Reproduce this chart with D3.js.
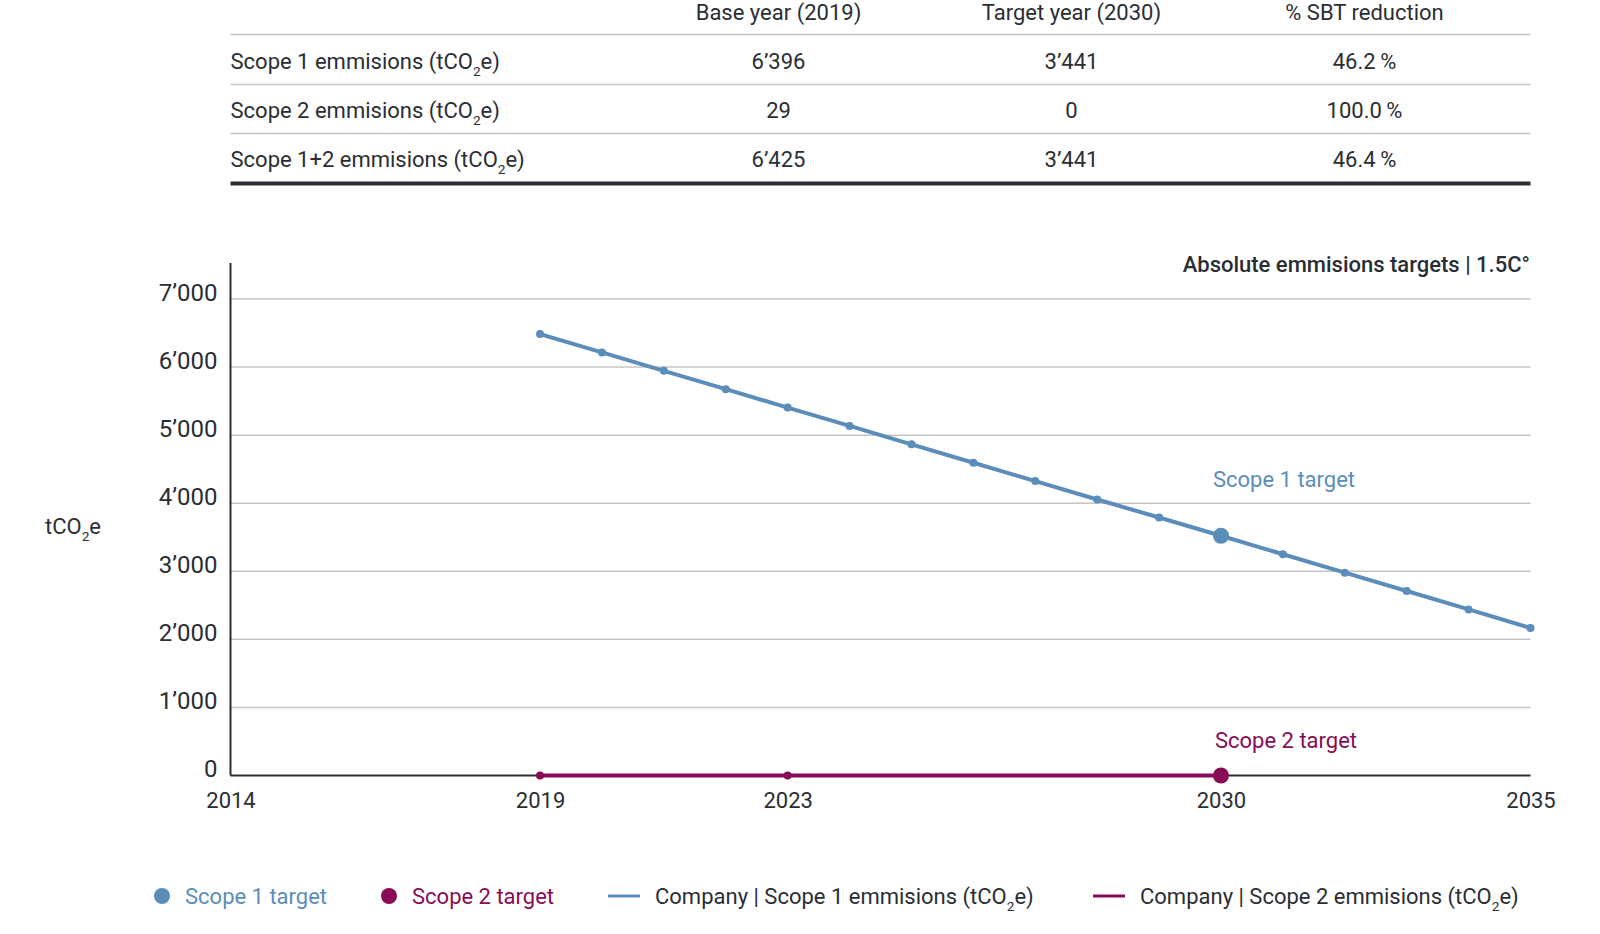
<!DOCTYPE html>
<html>
<head>
<meta charset="utf-8">
<script src="https://cdn.jsdelivr.net/npm/d3@7"></script>
<style>
  html, body { margin: 0; padding: 0; background: #fff; }
  svg { display: block; font-family: Roboto, "Noto Sans", sans-serif; }
</style>
</head>
<body>
<svg id="chart" width="1600" height="934"></svg>
<script>
// ---------- DATA ----------
const tableHeaders = ["Base year (2019)", "Target year (2030)", "% SBT reduction"];
const tableRowLabels = ["Scope 1 emmisions (tCO2e)", "Scope 2 emmisions (tCO2e)", "Scope 1+2 emmisions (tCO2e)"];
const baseYearValues = ["6’396", "29", "6’425"];
const targetYearValues = ["3’441", "0", "3’441"];
const reductionValues = ["46.2\u2009%", "100.0\u2009%", "46.4\u2009%"];

const scope1Years = [2019,2020,2021,2022,2023,2024,2025,2026,2027,2028,2029,2030,2031,2032,2033,2034,2035];
const scope1Values = [6485,6215,5945,5675,5405,5135,4865,4595,4325,4055,3790,3522,3250,2980,2710,2440,2167];
const scope2Years = [2019, 2023, 2030];
const scope2Values = [0, 0, 0];
const targetYear = 2030;

const xTicks = [2014, 2019, 2023, 2030, 2035];
const yTicks = [0, 1000, 2000, 3000, 4000, 5000, 6000, 7000];

const chartTitle = "Absolute emmisions targets | 1.5C°";
const yAxisLabel = "tCO2e";
const legendItems = [
  {type: "dot", label: "Scope 1 target", color: "#5b8dba", textColor: "#5b8dba"},
  {type: "dot", label: "Scope 2 target", color: "#870b55", textColor: "#870b55"},
  {type: "line", label: "Company | Scope 1 emmisions (tCO2e)", color: "#5b8dba", textColor: "#2a2e34"},
  {type: "line", label: "Company | Scope 2 emmisions (tCO2e)", color: "#870b55", textColor: "#2a2e34"}
];

// ---------- STYLE ----------
const BLUE = "#5b8dba", MAG = "#870b55", DARK = "#2a2e34", GRID = "#c4c4c4";
const FS = 22;

const svg = d3.select("#chart");

// helper to write text with subscript 2 in "CO2"
function richText(sel, str, fs) {
  const parts = str.split("CO2");
  const shift = fs * 0.3;
  parts.forEach((p, i) => {
    if (i === 0) {
      sel.append("tspan").text(p + (parts.length > 1 ? "CO" : ""));
    } else {
      sel.append("tspan").attr("dy", shift).attr("font-size", fs * 0.62).text("2");
      const rest = p + (i < parts.length - 1 ? "CO" : "");
      sel.append("tspan").attr("dy", -shift).text(rest);
    }
  });
}

// ---------- TABLE ----------
const tLeft = 230.5, tRight = 1530.5;
const colX = [778.5, 1071.5, 1364.5];
const headerBaseline = 20;
const rowLines = [34.5, 84.5, 133.5];
const rowBaselines = [69, 118, 167];

const tbl = svg.append("g");
tbl.selectAll("text.h").data(tableHeaders).join("text")
  .attr("class", "h")
  .attr("x", (d, i) => colX[i]).attr("y", headerBaseline)
  .attr("text-anchor", "middle").attr("font-size", FS).attr("fill", DARK)
  .text(d => d);

tbl.selectAll("line.r").data(rowLines).join("line")
  .attr("class", "r")
  .attr("x1", tLeft).attr("x2", tRight).attr("y1", d => d).attr("y2", d => d)
  .attr("stroke", GRID).attr("stroke-width", 1.5);

tbl.append("line").attr("x1", tLeft).attr("x2", tRight).attr("y1", 183.5).attr("y2", 183.5)
  .attr("stroke", DARK).attr("stroke-width", 4);

tableRowLabels.forEach((lab, i) => {
  const t = tbl.append("text").attr("x", tLeft).attr("y", rowBaselines[i])
    .attr("font-size", FS).attr("fill", DARK);
  richText(t, lab, FS);
  [baseYearValues[i], targetYearValues[i], reductionValues[i]].forEach((v, j) => {
    tbl.append("text").attr("x", colX[j]).attr("y", rowBaselines[i])
      .attr("text-anchor", "middle").attr("font-size", FS).attr("fill", DARK).text(v);
  });
});

// ---------- CHART ----------
const x = d3.scaleLinear().domain([2014, 2035]).range([230.5, 1530.5]);
const y = d3.scaleLinear().domain([0, 7000]).range([775.5, 299]);
const fmt = d3.formatLocale({decimal: ".", thousands: "’", grouping: [3], currency: ["", ""]}).format(",");

const g = svg.append("g");

// gridlines
g.selectAll("line.grid").data(yTicks.filter(d => d > 0)).join("line")
  .attr("class", "grid")
  .attr("x1", x(2014)).attr("x2", x(2035))
  .attr("y1", d => y(d)).attr("y2", d => y(d))
  .attr("stroke", GRID).attr("stroke-width", 1.5);

// y axis
const yAxis = g.append("g").attr("transform", `translate(${x(2014)},0)`)
  .call(d3.axisLeft(y).tickValues(yTicks).tickFormat(fmt).tickSize(0).tickPadding(13));
yAxis.select(".domain").remove();
yAxis.selectAll("text").attr("font-size", 24).attr("fill", DARK)
  .attr("font-family", "Roboto, sans-serif").attr("dy", "0").attr("y", 1);
g.append("line").attr("x1", x(2014)).attr("x2", x(2014)).attr("y1", 263).attr("y2", y(0))
  .attr("stroke", DARK).attr("stroke-width", 2);

// x axis
const xAxis = g.append("g").attr("transform", `translate(0,${y(0)})`)
  .call(d3.axisBottom(x).tickValues(xTicks).tickFormat(d3.format("d")).tickSize(0).tickPadding(14));
xAxis.select(".domain").remove();
xAxis.selectAll("text").attr("font-size", FS).attr("fill", DARK)
  .attr("font-family", "Roboto, sans-serif").attr("dy", "0").attr("y", 32);
g.append("line").attr("x1", x(2014)).attr("x2", x(2035)).attr("y1", y(0)).attr("y2", y(0))
  .attr("stroke", DARK).attr("stroke-width", 2);

// y-axis title
const yt = g.append("text").attr("x", 45).attr("y", 534).attr("font-size", FS).attr("fill", DARK);
richText(yt, yAxisLabel, FS);

// chart title
g.append("text").attr("x", 1530).attr("y", 272).attr("text-anchor", "end")
  .attr("font-size", FS).attr("font-weight", 500).attr("fill", DARK).text(chartTitle);

// scope 1 line
const s1 = scope1Years.map((yr, i) => ({yr, v: scope1Values[i]}));
const line = d3.line().x(d => x(d.yr)).y(d => y(d.v));
g.append("path").datum(s1).attr("d", line).attr("fill", "none")
  .attr("stroke", BLUE).attr("stroke-width", 4);
g.selectAll("circle.s1").data(s1).join("circle").attr("class", "s1")
  .attr("cx", d => x(d.yr)).attr("cy", d => y(d.v))
  .attr("r", d => d.yr === targetYear ? 8 : 4).attr("fill", BLUE);

// scope 2 line
const s2 = scope2Years.map((yr, i) => ({yr, v: scope2Values[i]}));
g.append("path").datum(s2).attr("d", line).attr("fill", "none")
  .attr("stroke", MAG).attr("stroke-width", 4);
g.selectAll("circle.s2").data(s2).join("circle").attr("class", "s2")
  .attr("cx", d => x(d.yr)).attr("cy", d => y(d.v))
  .attr("r", d => d.yr === targetYear ? 8 : 4).attr("fill", MAG);

// annotations
g.append("text").attr("x", 1284).attr("y", 487).attr("text-anchor", "middle")
  .attr("font-size", FS).attr("fill", BLUE).text("Scope 1 target");
g.append("text").attr("x", 1286).attr("y", 748).attr("text-anchor", "middle")
  .attr("font-size", FS).attr("fill", MAG).text("Scope 2 target");

// ---------- LEGEND ----------
const legY = 896;
const legX = [162, 389, 608, 1093];
legendItems.forEach((it, i) => {
  const lg = svg.append("g").attr("transform", `translate(${legX[i]},${legY})`);
  let tx;
  if (it.type === "dot") {
    lg.append("circle").attr("cx", 0).attr("cy", 0).attr("r", 8).attr("fill", it.color);
    tx = 23;
  } else {
    lg.append("line").attr("x1", 0).attr("x2", 32).attr("y1", 0).attr("y2", 0)
      .attr("stroke", it.color).attr("stroke-width", 3);
    tx = 47;
  }
  const t = lg.append("text").attr("x", tx).attr("y", 8).attr("font-size", FS).attr("fill", it.textColor);
  richText(t, it.label, FS);
});
</script>
</body>
</html>
